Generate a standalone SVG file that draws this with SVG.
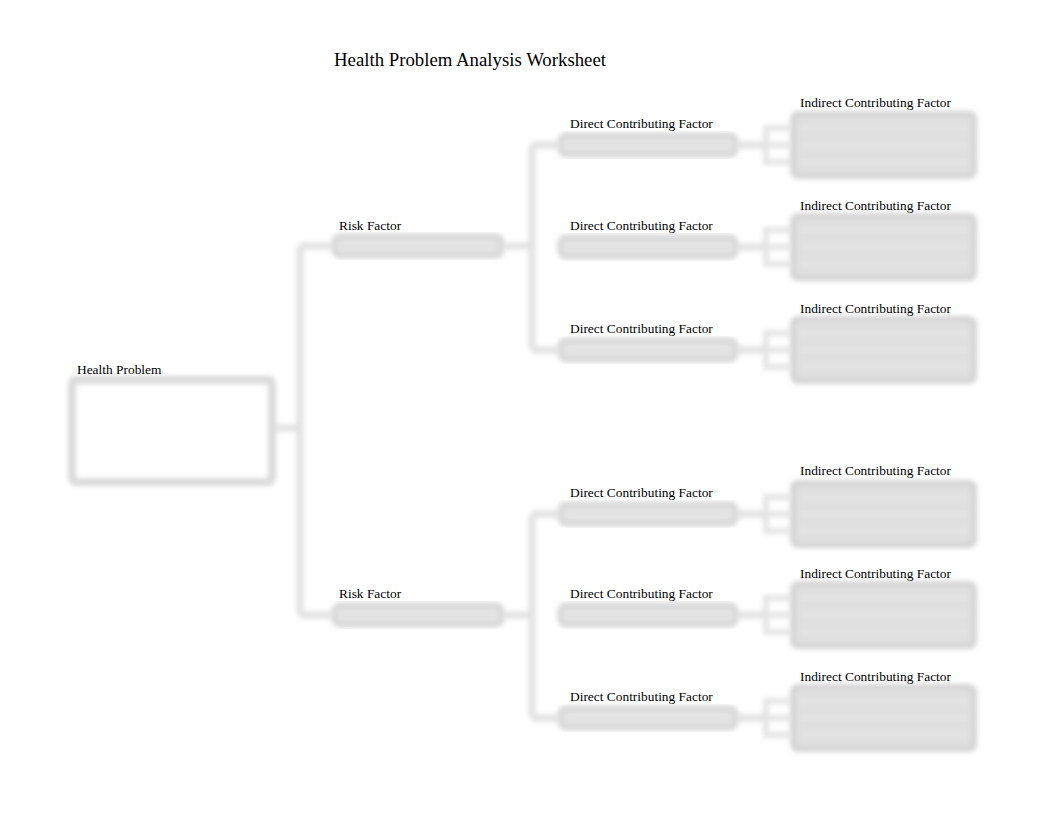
<svg xmlns="http://www.w3.org/2000/svg" width="1062" height="822" viewBox="0 0 1062 822">
<defs>
<filter id="blur" x="-20%" y="-20%" width="140%" height="140%"><feGaussianBlur stdDeviation="2.8"/></filter>
</defs>
<style>
.t{font-family:"Liberation Serif","Times New Roman",serif;font-size:13.4px;fill:#000}
.title{font-family:"Liberation Serif","Times New Roman",serif;font-size:18.8px;fill:#000}
.conn{stroke:#e2e2e2;stroke-width:7;fill:none}
.hp{fill:#fff;stroke:#d9d9d9;stroke-width:8}
.bar{fill:#e3e3e3;stroke:#d6d6d6;stroke-width:5}
.ind{fill:#e0e0e0;stroke:#d4d4d4;stroke-width:6}
.line{stroke:#e8e8e8;stroke-width:2}
.br{stroke:#e4e4e4;stroke-width:6;fill:none}
</style>
<rect width="1062" height="822" fill="#fff"/>
<text class="title" x="334" y="66">Health Problem Analysis Worksheet</text>

<g id="connectors" filter="url(#blur)">
<path class="conn" d="M274 428H300M300 246V615M300 246H332M300 615H332"/>
<path class="conn" d="M504 246H532M532 145V350M532 145H558M532 350H558"/>
<path class="conn" d="M504 615H532M532 514V718M532 514H558M532 718H558"/>
<path class="conn" d="M738 145H766M738 247H766M738 350H766M738 514H766M738 615H766M738 718H766"/>
<path class="br" d="M790 128H766V162H790M766 145H790"/>
<path class="br" d="M790 230H766V264H790M766 247H790"/>
<path class="br" d="M790 333H766V367H790M766 350H790"/>
<path class="br" d="M790 497H766V531H790M766 514H790"/>
<path class="br" d="M790 598H766V632H790M766 615H790"/>
<path class="br" d="M790 701H766V735H790M766 718H790"/>
</g>

<g id="health-problem">
<rect class="hp" x="72" y="380" width="200" height="102" rx="4" filter="url(#blur)"/>
<text class="t" x="77" y="374">Health Problem</text>
</g>

<g id="risk-1">
<rect class="bar" x="334" y="236" width="168" height="20" rx="6" filter="url(#blur)"/>
<text class="t" x="339" y="230">Risk Factor</text>
</g>
<g id="risk-2">
<rect class="bar" x="334" y="605" width="168" height="20" rx="6" filter="url(#blur)"/>
<text class="t" x="339" y="598">Risk Factor</text>
</g>

<g id="direct-1">
<rect class="bar" x="560" y="135" width="176" height="20" rx="6" filter="url(#blur)"/>
<text class="t" x="570" y="128">Direct Contributing Factor</text>
</g>
<g id="direct-2">
<rect class="bar" x="560" y="237" width="176" height="20" rx="6" filter="url(#blur)"/>
<text class="t" x="570" y="230">Direct Contributing Factor</text>
</g>
<g id="direct-3">
<rect class="bar" x="560" y="340" width="176" height="20" rx="6" filter="url(#blur)"/>
<text class="t" x="570" y="333">Direct Contributing Factor</text>
</g>
<g id="direct-4">
<rect class="bar" x="560" y="504" width="176" height="20" rx="6" filter="url(#blur)"/>
<text class="t" x="570" y="497">Direct Contributing Factor</text>
</g>
<g id="direct-5">
<rect class="bar" x="560" y="605" width="176" height="20" rx="6" filter="url(#blur)"/>
<text class="t" x="570" y="598">Direct Contributing Factor</text>
</g>
<g id="direct-6">
<rect class="bar" x="560" y="708" width="176" height="20" rx="6" filter="url(#blur)"/>
<text class="t" x="570" y="701">Direct Contributing Factor</text>
</g>

<g id="indirect-1">
<g filter="url(#blur)"><rect class="ind" x="793" y="114" width="181" height="62" rx="5"/>
<path class="line" d="M800 128H968M800 145H968M800 162H968"/></g>
<text class="t" x="800" y="107">Indirect Contributing Factor</text>
</g>
<g id="indirect-2">
<g filter="url(#blur)"><rect class="ind" x="793" y="216" width="181" height="62" rx="5"/>
<path class="line" d="M800 230H968M800 247H968M800 264H968"/></g>
<text class="t" x="800" y="210">Indirect Contributing Factor</text>
</g>
<g id="indirect-3">
<g filter="url(#blur)"><rect class="ind" x="793" y="319" width="181" height="62" rx="5"/>
<path class="line" d="M800 333H968M800 350H968M800 367H968"/></g>
<text class="t" x="800" y="313">Indirect Contributing Factor</text>
</g>
<g id="indirect-4">
<g filter="url(#blur)"><rect class="ind" x="793" y="483" width="181" height="62" rx="5"/>
<path class="line" d="M800 497H968M800 514H968M800 531H968"/></g>
<text class="t" x="800" y="475">Indirect Contributing Factor</text>
</g>
<g id="indirect-5">
<g filter="url(#blur)"><rect class="ind" x="793" y="584" width="181" height="62" rx="5"/>
<path class="line" d="M800 598H968M800 615H968M800 632H968"/></g>
<text class="t" x="800" y="578">Indirect Contributing Factor</text>
</g>
<g id="indirect-6">
<g filter="url(#blur)"><rect class="ind" x="793" y="687" width="181" height="62" rx="5"/>
<path class="line" d="M800 701H968M800 718H968M800 735H968"/></g>
<text class="t" x="800" y="681">Indirect Contributing Factor</text>
</g>
</svg>
